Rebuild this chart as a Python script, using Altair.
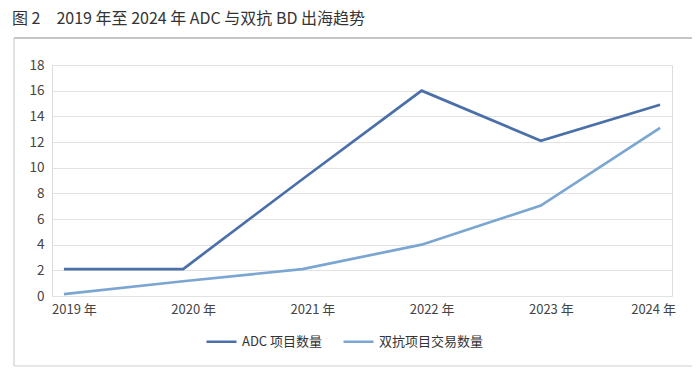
import altair as alt
import pandas as pd

years = ["2019 年", "2020 年", "2021 年", "2022 年", "2023 年", "2024 年"]
adc_counts = [2.1, 2.1, 9.1, 16.0, 12.1, 14.9]
bsab_counts = [0.15, 1.15, 2.1, 4.0, 7.05, 13.1]
series_names = ["ADC 项目数量", "双抗项目交易数量"]
series_colors = ["#4a6fa9", "#7ba6d1"]
y_ticks = [0, 2, 4, 6, 8, 10, 12, 14, 16, 18]
title_text = "图 2　2019 年至 2024 年 ADC 与双抗 BD 出海趋势"

FONT = "Noto Sans CJK SC"

rows = []
for y, v in zip(years, adc_counts):
    rows.append({"year": y, "value": v, "series": series_names[0]})
for y, v in zip(years, bsab_counts):
    rows.append({"year": y, "value": v, "series": series_names[1]})
df = pd.DataFrame(rows)

W, H = 620, 231

lines = alt.Chart(df).mark_line(strokeWidth=2.7).encode(
    x=alt.X("year:N", sort=years, title=None,
            scale=alt.Scale(type="point", padding=0.1),
            axis=alt.Axis(labelAngle=0, grid=False, domain=False, ticks=False,
                          labelPadding=7, labelFontSize=13, labelColor="#444",
                          labelFont=FONT,
                          labelOffset=alt.condition("datum.value == '2024 年'",
                                                    alt.value(-7), alt.value(10)))),
    y=alt.Y("value:Q", title=None,
            scale=alt.Scale(domain=[0, 18], nice=False),
            axis=alt.Axis(values=y_ticks, domain=False, ticks=False,
                          labelPadding=8, labelFontSize=13.5, labelColor="#444",
                          labelFont=FONT, gridColor="#e2e2e2", gridWidth=1)),
    color=alt.Color("series:N", title=None,
                    scale=alt.Scale(domain=series_names, range=series_colors),
                    legend=alt.Legend(orient="none", legendX=153, legendY=260,
                                      direction="horizontal", symbolType="stroke",
                                      symbolSize=900, symbolStrokeWidth=2.5,
                                      labelFontSize=13, labelColor="#333",
                                      labelFont=FONT, labelOffset=4,
                                      columnPadding=15, padding=0)),
)

one = alt.Data(values=[{"title": title_text}])
title_mark = alt.Chart(one).mark_text(
    align="left", baseline="middle", fontSize=16, color="#333", font=FONT
).encode(text="title:N", x=alt.value(-40), y=alt.value(-46))

top_rule = alt.Chart(one).mark_rule(color="#8c8c8c", strokeWidth=1.2).encode(
    x=alt.value(-38), x2=alt.value(641), y=alt.value(-27))
right_rule = alt.Chart(one).mark_rule(color="#8c8c8c", strokeWidth=1.2).encode(
    x=alt.value(641), y=alt.value(-27), y2=alt.value(301))
left_rule = alt.Chart(one).mark_rule(color="#cfcfcf", strokeWidth=1.2).encode(
    x=alt.value(-38), y=alt.value(-27), y2=alt.value(301))
bottom_rule = alt.Chart(one).mark_rule(color="#cfcfcf", strokeWidth=1.2).encode(
    x=alt.value(-38), x2=alt.value(641), y=alt.value(301))

chart = alt.layer(top_rule, right_rule, left_rule, bottom_rule, title_mark, lines).properties(
    width=W, height=H,
    autosize=alt.AutoSizeParams(type="none"),
    padding={"left": 44, "top": 57, "right": 20, "bottom": 71},
).configure_view(stroke=None).configure(background="white")

chart.save("out.html", embed_options={"renderer": "svg", "actions": False})
